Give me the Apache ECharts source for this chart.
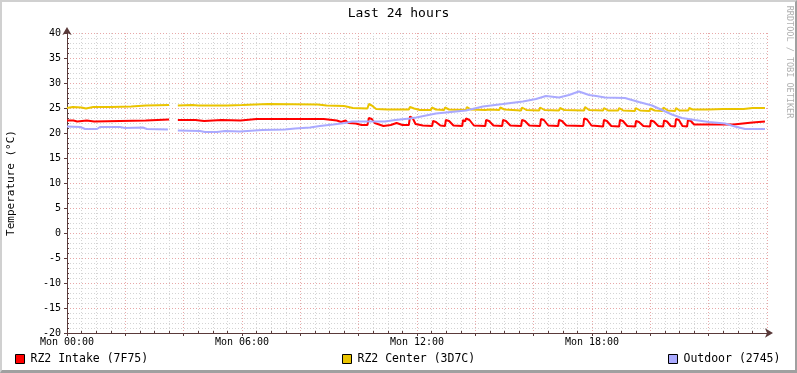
<!DOCTYPE html>
<html>
<head>
<meta charset="utf-8">
<script src="https://cdn.jsdelivr.net/npm/echarts@6/dist/echarts.min.js"></script>
<style>
  html, body { margin: 0; padding: 0; background: #fff; }
  #wrap { position: relative; width: 797px; height: 373px; }
  #chart { position: absolute; left: 0; top: 0; width: 797px; height: 373px; }
  #frame {
    position: absolute; left: 0; top: 0; width: 797px; height: 373px;
    box-sizing: border-box; pointer-events: none;
    border-top: 2px solid #d0d0d0; border-left: 2px solid #d0d0d0;
    border-right: 2px solid #a0a0a0; border-bottom: 3px solid #a0a0a0;
  }
</style>
</head>
<body>
<div id="wrap">
  <div id="chart"></div>
  <div id="frame"></div>
</div>
<script>
// tick labels (hours since Mon 00:00)
const labelHours = [0, 6, 12, 18];
const tickLabels = ["Mon 00:00", "Mon 06:00", "Mon 12:00", "Mon 18:00"];

// RZ2 Intake (7F75)
const intakeHours = [0, 0.22, 0.25, 0.35, 0.38, 0.68, 0.7, 0.93, 0.95, 2.7, 2.75, 3.5, 3.62, 3.8, 4.4, 4.45, 4.7, 4.75, 5.3, 5.35, 5.95, 6.0, 6.5, 8.8, 8.85, 9.25, 9.4, 9.55, 9.65, 9.9, 10.1, 10.3, 10.35, 10.45, 10.55, 10.85, 11.1, 11.3, 11.5, 11.72, 11.76, 11.85, 11.95, 12.2, 12.52, 12.55, 12.65, 12.8, 12.96, 12.99, 13.1, 13.25, 13.55, 13.58, 13.65, 13.68, 13.8, 13.95, 14.34, 14.37, 14.47, 14.62, 14.92, 14.95, 15.05, 15.2, 15.57, 15.6, 15.7, 15.85, 16.22, 16.25, 16.35, 16.5, 16.84, 16.87, 16.97, 17.12, 17.7, 17.73, 17.83, 17.98, 18.38, 18.41, 18.51, 18.66, 18.93, 18.96, 19.06, 19.21, 19.48, 19.51, 19.61, 19.76, 19.99, 20.02, 20.12, 20.27, 20.44, 20.47, 20.57, 20.7, 20.85, 20.88, 20.98, 21.1, 21.26, 21.29, 21.39, 21.5, 22.85, 22.9, 23.5, 23.55, 23.93];
const intakeTemps = [22.5, 22.5, 22.3, 22.3, 22.5, 22.5, 22.3, 22.3, 22.5, 22.5, 22.7, 22.7, null, 22.6, 22.6, 22.4, 22.4, 22.6, 22.6, 22.5, 22.5, 22.6, 22.8, 22.8, 22.5, 22.5, 22.2, 22.5, 22.0, 21.9, 21.6, 21.6, 23.0, 22.8, 22.0, 21.4, 21.6, 22.0, 21.6, 21.6, 23.3, 23.0, 21.8, 21.5, 21.4, 22.4, 22.2, 21.5, 21.4, 22.6, 22.4, 21.5, 21.4, 22.6, 22.3, 22.9, 22.6, 21.5, 21.4, 22.6, 22.4, 21.5, 21.4, 22.6, 22.4, 21.5, 21.4, 22.6, 22.4, 21.5, 21.4, 22.8, 22.6, 21.5, 21.4, 22.6, 22.4, 21.5, 21.4, 22.9, 22.7, 21.5, 21.3, 22.6, 22.4, 21.4, 21.3, 22.6, 22.4, 21.4, 21.3, 22.4, 22.2, 21.4, 21.3, 22.5, 22.3, 21.4, 21.3, 22.5, 22.3, 21.4, 21.3, 22.8, 22.6, 21.4, 21.3, 22.6, 22.4, 21.7, 21.7, 22.1, 22.1, 22.3, 22.3];

// RZ2 Center (3D7C)
const centerHours = [0, 0.2, 0.5, 0.65, 0.9, 1.5, 2.2, 2.7, 3.5, 3.62, 3.8, 4.3, 4.5, 5.5, 6.0, 6.9, 8.6, 8.9, 9.5, 9.8, 10.3, 10.35, 10.45, 10.6, 11.0, 11.72, 11.76, 11.9, 12.1, 12.48, 12.51, 12.65, 12.93, 12.96, 13.1, 13.68, 13.71, 13.85, 14.34, 14.37, 14.5, 14.82, 14.85, 15.0, 15.57, 15.6, 15.75, 16.19, 16.22, 16.37, 16.87, 16.9, 17.05, 17.73, 17.76, 17.9, 18.38, 18.41, 18.55, 18.9, 18.93, 19.07, 19.47, 19.5, 19.65, 19.97, 20.0, 20.15, 20.42, 20.45, 20.6, 20.85, 20.88, 21.0, 21.3, 21.33, 21.45, 22.0, 22.5, 23.2, 23.5, 23.93];
const centerTemps = [25.0, 25.2, 25.1, 24.9, 25.2, 25.2, 25.3, 25.5, 25.6, null, 25.5, 25.6, 25.5, 25.5, 25.6, 25.8, 25.7, 25.5, 25.4, 25.0, 24.9, 25.8, 25.5, 24.8, 24.7, 24.7, 25.2, 24.9, 24.6, 24.6, 25.1, 24.7, 24.6, 25.1, 24.7, 24.6, 25.2, 24.7, 24.6, 25.0, 24.7, 24.6, 25.1, 24.7, 24.5, 25.1, 24.6, 24.5, 25.1, 24.6, 24.5, 25.0, 24.6, 24.5, 25.2, 24.6, 24.5, 25.0, 24.5, 24.5, 25.0, 24.5, 24.4, 25.0, 24.5, 24.4, 24.9, 24.5, 24.4, 25.1, 24.5, 24.4, 25.0, 24.5, 24.5, 25.0, 24.7, 24.7, 24.8, 24.8, 25.0, 25.0];

// Outdoor (2745)
const outdoorHours = [0, 0.45, 0.62, 1.03, 1.13, 1.82, 1.99, 2.6, 2.74, 3.46, 3.62, 3.8, 4.56, 4.73, 5.14, 5.42, 5.93, 6.69, 7.47, 7.82, 8.33, 8.67, 9.12, 9.53, 9.77, 10.9, 11.25, 11.76, 11.97, 12.65, 13.68, 14.26, 14.95, 15.63, 16.08, 16.42, 16.87, 17.21, 17.55, 17.9, 18.14, 18.45, 19.13, 19.61, 20.06, 20.4, 20.74, 21.08, 21.53, 22.0, 22.56, 22.9, 23.25, 23.93];
const outdoorTemps = [21.3, 21.2, 20.8, 20.8, 21.2, 21.2, 21.0, 21.1, 20.8, 20.7, null, 20.5, 20.4, 20.2, 20.2, 20.4, 20.3, 20.6, 20.7, 20.9, 21.1, 21.4, 21.7, 22.0, 22.3, 22.3, 22.6, 22.9, 23.1, 23.9, 24.5, 25.3, 25.8, 26.3, 26.8, 27.4, 27.1, 27.6, 28.3, 27.6, 27.4, 27.1, 27.0, 26.2, 25.5, 24.6, 23.7, 23.0, 22.6, 22.2, 21.9, 21.3, 20.8, 20.8];

const FONT = "DejaVu Sans Mono";
const AXIS = "#5a3a3a";

const zip = (xs, ys) => xs.map((x, i) => [x, ys[i]]);

const chart = echarts.init(document.getElementById("chart"));

const seriesList = [
  { name: "RZ2 Intake (7F75)", color: "#ff0000", data: zip(intakeHours, intakeTemps) },
  { name: "RZ2 Center (3D7C)", color: "#eac400", data: zip(centerHours, centerTemps) },
  { name: "Outdoor (2745)", color: "#aaaaff", data: zip(outdoorHours, outdoorTemps) },
];

const legendLefts = [15, 342, 668];

chart.setOption({
  backgroundColor: "#ffffff",
  animation: false,
  title: {
    text: "Last 24 hours",
    left: "center",
    top: 7,
    padding: 0,
    textStyle: { fontFamily: FONT, fontSize: 13, fontWeight: "normal", color: "#000" },
  },
  legend: seriesList.map((s, i) => ({
    data: [s.name],
    left: legendLefts[i],
    top: 353,
    padding: 0,
    icon: "rect",
    itemWidth: 9,
    itemHeight: 9,
    itemGap: 6,
    itemStyle: { borderColor: "#000", borderWidth: 1 },
    textStyle: { fontFamily: FONT, fontSize: 11.5, color: "#000", padding: [0, 0, 0, 1] },
  })),
  grid: { left: 67, right: 30, top: 33, bottom: 40, outerBoundsMode: "none" },
  xAxis: {
    type: "value",
    min: 0,
    max: 24,
    interval: 2,
    axisLine: {
      onZero: false,
      lineStyle: { color: AXIS, width: 1 },
      symbol: ["none", "arrow"],
      symbolSize: [7, 8],
      symbolOffset: [0, 6],
    },
    axisTick: { show: true, length: 3, lineStyle: { color: AXIS } },
    minorTick: { show: true, splitNumber: 4, length: -2, lineStyle: { color: AXIS } },
    axisLabel: {
      fontFamily: FONT,
      fontSize: 10,
      color: "#000",
      margin: 4,
      formatter: (v) => {
        const i = labelHours.indexOf(v);
        return i >= 0 ? tickLabels[i] : "";
      },
    },
    splitLine: { show: true, lineStyle: { color: "#e8a8a8", type: [1, 2] } },
    minorSplitLine: { show: true, lineStyle: { color: "#d4d4d4", type: [1, 2] } },
  },
  yAxis: {
    type: "value",
    min: -20,
    max: 40,
    interval: 5,
    name: "Temperature (°C)",
    nameLocation: "middle",
    nameGap: 50,
    nameTextStyle: { fontFamily: FONT, fontSize: 11, color: "#000" },
    axisLine: {
      show: true,
      onZero: false,
      lineStyle: { color: AXIS, width: 1 },
      symbol: ["none", "arrow"],
      symbolSize: [7, 8],
      symbolOffset: [0, 6],
    },
    axisTick: { show: true, length: 3, lineStyle: { color: AXIS } },
    minorTick: { show: true, splitNumber: 5, length: -2, lineStyle: { color: AXIS } },
    axisLabel: { fontFamily: FONT, fontSize: 10, color: "#000", margin: 6 },
    splitLine: { show: true, lineStyle: { color: "#e8a8a8", type: [1, 2] } },
    minorSplitLine: { show: true, lineStyle: { color: "#d4d4d4", type: [1, 2] } },
  },
  graphic: [
    {
      type: "text",
      x: 789,
      y: 62,
      rotation: -Math.PI / 2,
      style: {
        text: "RRDTOOL / TOBI OETIKER",
        fontFamily: FONT,
        fontSize: 8.5,
        fill: "#b0b0b0",
        align: "center",
        verticalAlign: "middle",
      },
    },
  ],
  series: seriesList.map((s) => ({
    name: s.name,
    type: "line",
    data: s.data,
    showSymbol: false,
    connectNulls: false,
    color: s.color,
    lineStyle: { color: s.color, width: 2 },
    itemStyle: { color: s.color },
  })),
});
</script>
</body>
</html>
